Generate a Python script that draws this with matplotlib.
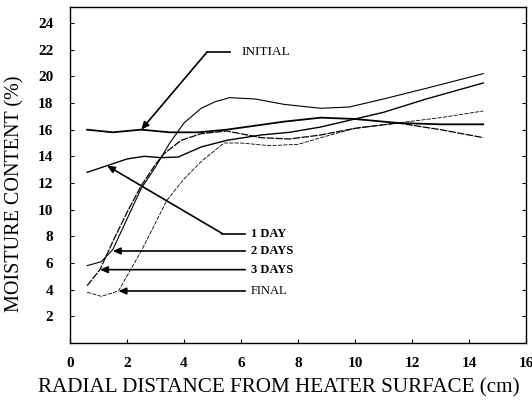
import matplotlib
matplotlib.use("Agg")
import matplotlib.pyplot as plt

# ---- data ----
initial_x = [0.6, 1.5, 2.5, 3.5, 4.5, 5.5, 6.5, 7.5, 8.8, 10.0, 11.5, 13.0, 14.5]
initial_y = [16.0, 15.8, 16.0, 15.8, 15.8, 16.0, 16.3, 16.6, 16.9, 16.8, 16.5, 16.4, 16.4]

day1_x = [0.6, 1.3, 2.0, 2.6, 3.2, 3.8, 4.6, 5.5, 6.7, 7.7, 8.8, 10.0, 11.0, 12.5, 14.5]
day1_y = [12.8, 13.3, 13.8, 14.0, 13.9, 13.95, 14.7, 15.2, 15.6, 15.8, 16.2, 16.8, 17.3, 18.3, 19.5]

day2_x = [0.6, 1.1, 1.5, 2.0, 2.5, 3.0, 3.5, 4.0, 4.6, 5.1, 5.6, 6.5, 7.5, 8.8, 9.8, 11.0, 12.5, 14.5]
day2_y = [5.8, 6.1, 7.0, 9.3, 11.6, 13.2, 15.0, 16.5, 17.6, 18.1, 18.4, 18.3, 17.9, 17.6, 17.7, 18.3, 19.1, 20.2]

day3_x = [0.6, 1.05, 1.5, 2.0, 2.5, 3.0, 3.3, 3.9, 4.6, 5.5, 6.7, 7.7, 8.8, 10.0, 11.5, 13.0, 14.5]
day3_y = [4.3, 5.5, 7.6, 9.8, 11.8, 13.4, 14.2, 15.2, 15.7, 15.9, 15.4, 15.3, 15.6, 16.1, 16.5, 16.0, 15.4]

final_x = [0.6, 1.1, 1.7, 2.5, 3.4, 4.0, 4.6, 5.4, 6.0, 7.0, 8.0, 8.8, 10.0, 11.5, 13.0, 14.5]
final_y = [3.8, 3.5, 3.9, 6.9, 10.7, 12.3, 13.6, 15.0, 15.0, 14.8, 14.9, 15.4, 16.1, 16.5, 16.9, 17.4]

x_ticks = [0, 2, 4, 6, 8, 10, 12, 14, 16]
y_ticks = [2, 4, 6, 8, 10, 12, 14, 16, 18, 20, 22, 24]

labels = ["INITIAL", "1 DAY", "2 DAYS", "3 DAYS", "FINAL"]

# ---- figure ----
plt.rcParams['font.family'] = ['Liberation Serif', 'DejaVu Serif']
fig = plt.figure(figsize=(5.32, 4.04), dpi=100)
ax = fig.add_axes([0.1316, 0.151, 0.8571, 0.8317])

ax.plot(initial_x, initial_y, color='black', lw=1.3)
ax.plot(day1_x, day1_y, color='black', lw=1.0)
ax.plot(day2_x, day2_y, color='black', lw=0.8)
ax.plot(day3_x, day3_y, color='black', lw=0.9, dashes=(6, 1))
ax.plot(final_x, final_y, color='black', lw=0.6, dashes=(5, 1.5))

ax.set_xlim(0, 16)
ax.set_ylim(0, 25.2)
ax.set_xticks(x_ticks)
ax.set_yticks(y_ticks)
ax.set_xticklabels([str(v) for v in x_ticks], fontweight='bold', fontsize=11)
ax.set_yticklabels([str(v) for v in y_ticks], fontweight='bold', fontsize=11)
ax.tick_params(axis='both', direction='in', length=3, width=0.8,
               top=False, right=True)
ax.tick_params(axis='y', pad=12)
ax.tick_params(axis='x', pad=10)
for s in ax.spines.values():
    s.set_linewidth(1.0)

ax.set_xlabel("RADIAL DISTANCE FROM HEATER SURFACE (cm)", fontsize=15.2)
ax.xaxis.set_label_coords(0.458, -0.105)
ax.set_ylabel("MOISTURE CONTENT (%)", fontsize=14.5)
ax.yaxis.set_label_coords(-0.1, 0.445)

arrow_kw = dict(arrowstyle='-|>,head_length=0.45,head_width=0.2', color='black',
                lw=1.2, shrinkA=0, shrinkB=0)

# INITIAL leader
ax.annotate("", xy=(2.5, 16.0), xytext=(4.8, 21.8), arrowprops=arrow_kw)
ax.plot([4.8, 5.6], [21.8, 21.8], color='black', lw=1.2)
ax.text(6.0, 21.8, labels[0], fontsize=9.5, va='center', ha='left')

# 1 DAY leader
ax.annotate("", xy=(1.3, 13.3), xytext=(5.35, 8.2), arrowprops=arrow_kw)
ax.plot([5.35, 6.15], [8.2, 8.2], color='black', lw=1.2)
ax.text(6.35, 8.2, labels[1], fontsize=9, fontweight='bold', va='center', ha='left')

# 2 DAYS, 3 DAYS, FINAL leaders
for lab, px, py in [(labels[2], 1.5, 6.9), (labels[3], 1.05, 5.5), (labels[4], 1.7, 3.9)]:
    ax.annotate("", xy=(px, py), xytext=(6.15, py), arrowprops=arrow_kw)
    ax.text(6.35, py, lab, fontsize=9, fontweight='bold' if lab != "FINAL" else 'normal',
            va='center', ha='left')

fig.savefig("out.png", dpi=100)
